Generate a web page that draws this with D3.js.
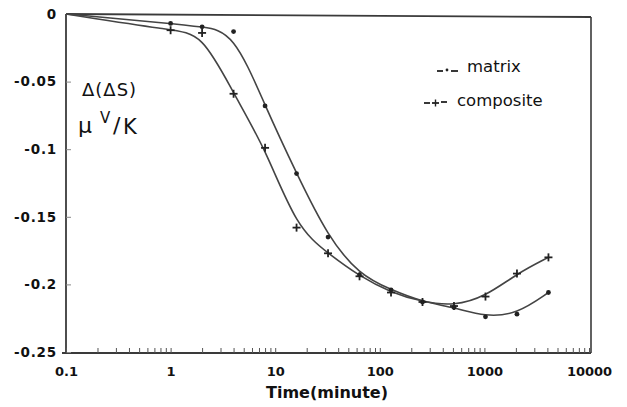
<!DOCTYPE html>
<html>
<head>
<meta charset="utf-8">
<script src="https://cdn.jsdelivr.net/npm/d3@7"></script>
<style>
  html, body { margin: 0; padding: 0; background: #fff; }
  svg { display: block; }
  text { font-family: "DejaVu Sans", sans-serif; fill: #111; }
</style>
</head>
<body>
<svg id="chart" width="627" height="407"></svg>
<script>
// ---- data ----
const times = [0.1, 1, 2, 4, 8, 16, 32, 64, 128, 256, 512, 1024, 2048, 4096];
const matrix = [0, -0.007, -0.0095, -0.013, -0.068, -0.118, -0.165, -0.193, -0.204, -0.213, -0.217, -0.224, -0.222, -0.206];
const composite = [0, -0.012, -0.014, -0.059, -0.099, -0.158, -0.177, -0.194, -0.206, -0.213, -0.216, -0.209, -0.192, -0.180];
const yTicks = [0, -0.05, -0.1, -0.15, -0.2, -0.25];
const yTickLabels = ["0", "-0.05", "-0.1", "-0.15", "-0.2", "-0.25"];
const xTicks = [0.1, 1, 10, 100, 1000, 10000];
const xTickLabels = ["0.1", "1", "10", "100", "1000", "10000"];
const seriesNames = ["matrix", "composite"];

const svg = d3.select("#chart");
const L = 66, R = 589, T = 14, B = 352;
const x = d3.scaleLog().domain([0.1, 10000]).range([L, R]);
const y = d3.scaleLinear().domain([-0.25, 0]).range([B, T]);
const ink = "#3a3a3a";

// frame
const frame = svg.append("g").attr("stroke", ink).attr("fill", "none");
frame.append("line").attr("x1", L).attr("x2", L).attr("y1", T).attr("y2", B + 1).attr("stroke-width", 1.8);
frame.append("line").attr("x1", L).attr("x2", R + 2).attr("y1", T).attr("y2", T + 3).attr("stroke-width", 1.8);
frame.append("line").attr("x1", R + 2).attr("x2", R + 2).attr("y1", T + 3).attr("y2", B + 1).attr("stroke-width", 1.6);
frame.append("line").attr("x1", L - 4).attr("x2", R + 2).attr("y1", B + 1).attr("y2", B + 1).attr("stroke-width", 1.8);

// y axis ticks + labels
const yAxis = d3.axisLeft(y).tickValues(yTicks).tickSize(-5)
  .tickFormat((d, i) => yTickLabels[i]).tickPadding(9);
const gy = svg.append("g").attr("transform", `translate(${L},0)`).call(yAxis);
gy.select(".domain").remove();
gy.selectAll(".tick line").attr("stroke", "#888").attr("stroke-width", 1);
gy.selectAll(".tick text")
  .style("font-family", "'DejaVu Sans', sans-serif")
  .style("font-weight", "bold").style("font-size", "13.5px").attr("fill", "#111")
  .attr("letter-spacing", "0.8px");

// x axis: minor ticks inward, labels below
const minor = [];
for (let e = -1; e < 4; e++) for (let k = 1; k <= 9; k++) minor.push(k * Math.pow(10, e));
minor.push(10000);
const xAxisMinor = d3.axisBottom(x).tickValues(minor).tickSize(-5).tickFormat("");
const gxm = svg.append("g").attr("transform", `translate(0,${B + 1})`).call(xAxisMinor);
gxm.select(".domain").remove();
gxm.selectAll(".tick line").attr("stroke", "#555").attr("stroke-width", 1);

const xAxis = d3.axisBottom(x).tickValues(xTicks).tickSize(0)
  .tickFormat((d, i) => xTickLabels[i]).tickPadding(14);
const gx = svg.append("g").attr("transform", `translate(0,${B + 1})`).call(xAxis);
gx.select(".domain").remove();
gx.selectAll(".tick text")
  .style("font-family", "'DejaVu Sans', sans-serif")
  .style("font-weight", "bold").style("font-size", "13px").attr("fill", "#111");

// axis titles
svg.append("text").attr("x", 327).attr("y", 398).attr("text-anchor", "middle")
  .style("font-weight", "bold").style("font-size", "16px").text("Time(minute)");
svg.append("text").attr("x", 82).attr("y", 96)
  .style("font-size", "18px").attr("letter-spacing", "1px").text("Δ(ΔS)");
const unit = svg.append("text").attr("x", 78).attr("y", 133).style("font-size", "22px");
unit.append("tspan").attr("x", 78).attr("y", 133).text("μ");
unit.append("tspan").attr("x", 100).attr("y", 123).style("font-size", "15px").text("V");
unit.append("tspan").attr("x", 113).attr("y", 133).text("/");
unit.append("tspan").attr("x", 123).attr("y", 134).style("font-size", "21px").text("K");

// curves (smooth fitted look)
const line = d3.line().x(d => x(d[0])).y(d => y(d[1])).curve(d3.curveBasis);
const mData = times.map((t, i) => [t, matrix[i]]);
const cData = times.map((t, i) => [t, composite[i]]);
[mData, cData].forEach(d => {
  svg.append("path").datum(d).attr("d", line)
    .attr("fill", "none").attr("stroke", "#444").attr("stroke-width", 1.6);
});

// markers
svg.append("g").selectAll("circle").data(mData.slice(1)).join("circle")
  .attr("cx", d => x(d[0])).attr("cy", d => y(d[1])).attr("r", 2.4).attr("fill", "#222");
const plus = svg.append("g").attr("stroke", "#222").attr("stroke-width", 1.8);
cData.slice(1).forEach(d => {
  const px = x(d[0]), py = y(d[1]);
  plus.append("line").attr("x1", px - 4).attr("x2", px + 4).attr("y1", py).attr("y2", py);
  plus.append("line").attr("x1", px).attr("x2", px).attr("y1", py - 4).attr("y2", py + 4);
});

// legend
const lg = svg.append("g");
const sym = lg.append("g").attr("stroke", "#222").attr("stroke-width", 1.8);
sym.append("line").attr("x1", 437).attr("x2", 443).attr("y1", 71).attr("y2", 71);
sym.append("line").attr("x1", 451).attr("x2", 458).attr("y1", 71).attr("y2", 71);
lg.append("circle").attr("cx", 447).attr("cy", 70).attr("r", 1.4).attr("fill", "#222");
sym.append("line").attr("x1", 424).attr("x2", 430).attr("y1", 103).attr("y2", 103);
sym.append("line").attr("x1", 432).attr("x2", 439).attr("y1", 103).attr("y2", 103);
sym.append("line").attr("x1", 435.5).attr("x2", 435.5).attr("y1", 99.5).attr("y2", 106.5).attr("stroke-width", 1.4);
sym.append("line").attr("x1", 441).attr("x2", 447).attr("y1", 102).attr("y2", 102);
lg.append("text").attr("x", 467).attr("y", 72).style("font-size", "16.5px").text(seriesNames[0]);
lg.append("text").attr("x", 457).attr("y", 106).style("font-size", "16.5px").text(seriesNames[1]);
</script>
</body>
</html>
